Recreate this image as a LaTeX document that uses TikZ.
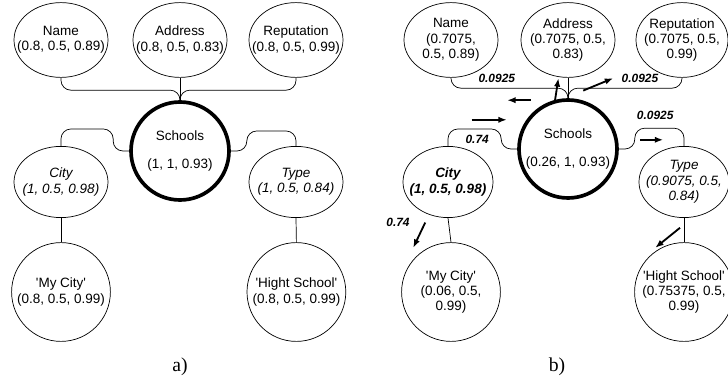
\documentclass[tikz,border=0pt]{standalone}
\usepackage{fontspec}
\setmainfont{Liberation Sans}
\newfontfamily\capfont{Liberation Serif}
\usetikzlibrary{shapes.geometric,arrows.meta,calc}

\tikzset{
  oval/.style={draw, ellipse, line width=0.5pt, inner sep=0pt, minimum width=2.35cm, minimum height=1.87cm},
  midoval/.style={oval, minimum height=1.78cm},
  ball/.style={draw, circle, line width=0.5pt, inner sep=0pt, minimum size=2.47cm},
  hub/.style={draw, circle, line width=2.6pt, inner sep=0pt, minimum size=2.45cm},
  txt/.style={align=center, inner sep=0pt, font=\fontsize{9.6}{11}\selectfont},
  link/.style={line width=0.5pt, rounded corners=7pt},
  flow/.style={-{Latex[length=6pt,width=4.5pt]}, line width=1.3pt},
  wt/.style={font=\fontsize{8.5}{10}\selectfont\bfseries\itshape},
  subcap/.style={font=\capfont\fontsize{14}{16}\selectfont}
}

\begin{document}
\begin{tikzpicture}
  \useasboundingbox (0,0) rectangle (18.2,9.525);

  % a) initial values
  \node[oval] (nameA) at (1.525,8.525) [label={[txt]center:{Name\\(0.8, 0.5, 0.89)}}] {};
  \node[oval] (addrA) at (4.5,8.525) [label={[txt]center:{Address\\(0.8, 0.5, 0.83)}}] {};
  \node[oval] (repA) at (7.4,8.525) [label={[txt]center:{Reputation\\(0.8, 0.5, 0.99)}}] {};
  \node[hub] (schoolsA) at (4.5,5.75) [label={[txt]center:{Schools\\[9pt](1, 1, 0.93)}}] {};
  \node[midoval] (cityA) at (1.525,4.975) [label={[txt]center:{\itshape City\\\itshape (1, 0.5, 0.98)}}] {};
  \node[midoval] (typeA) at (7.4,4.975) [label={[txt]center:{\itshape Type\\\itshape (1, 0.5, 0.84)}}] {};
  \node[ball] (mycityA) at (1.525,2.225) [label={[txt]center:{\textquotesingle My City\textquotesingle\\(0.8, 0.5, 0.99)}}] {};
  \node[ball] (highA) at (7.41,2.225) [label={[txt]center:{\textquotesingle Hight School\textquotesingle\\(0.8, 0.5, 0.99)}}] {};
  \node[subcap] (capA) at (4.5,0.35) {a)};

  \draw[link] (nameA.south) |- ($(schoolsA.north)+(0,0.25)$) -- (schoolsA.north);
  \draw[link] (repA.south) |- ($(schoolsA.north)+(0,0.25)$) -- (schoolsA.north);
  \draw[link] (addrA.south) -- (schoolsA.north);
  \draw[link] (cityA.north) |- ($(schoolsA.west)+(-0.4,0.55)$) |- (schoolsA.west);
  \draw[link] (typeA.north) |- ($(schoolsA.east)+(0.4,0.5)$) |- (schoolsA.east);
  \draw[link] (cityA.south) -- (mycityA.north);
  \draw[link] (typeA.south) -- (highA.north);

  % b) after propagation
  \node[oval] (nameB) at (11.275,8.525) [label={[txt]center:{Name\\(0.7075,\\0.5, 0.89)}}] {};
  \node[oval] (addrB) at (14.2,8.525) [label={[txt]center:{Address\\(0.7075, 0.5,\\0.83)}}] {};
  \node[oval, minimum width=2.3cm] (repB) at (17.05,8.525) [label={[txt]center:{Reputation\\(0.7075, 0.5,\\0.99)}}] {};
  \node[hub] (schoolsB) at (14.2,5.8) [label={[txt]center:{Schools\\[9pt](0.26, 1, 0.93)}}] {};
  \node[midoval, minimum width=2.25cm] (cityB) at (11.2,4.975) [label={[txt]center:{\bfseries\itshape City\\\bfseries\itshape (1, 0.5, 0.98)}}] {};
  \node[midoval, minimum width=2.25cm] (typeB) at (17.1,4.975) [label={[txt]center:{\itshape Type\\\itshape (0.9075, 0.5,\\\itshape 0.84)}}] {};
  \node[ball] (mycityB) at (11.275,2.225) [label={[txt]center:{\textquotesingle My City\textquotesingle\\(0.06, 0.5,\\0.99)}}] {};
  \node[ball] (highB) at (17.1,2.225) [label={[txt]center:{\textquotesingle Hight School\textquotesingle\\(0.75375, 0.5,\\0.99)}}] {};
  \node[subcap] (capB) at (13.925,0.35) {b)};

  \draw[link] (nameB.south) |- ($(schoolsB.north)+(0,0.25)$) -- (schoolsB.north);
  \draw[link] (repB.south) |- ($(schoolsB.north)+(0,0.25)$) -- (schoolsB.north);
  \draw[link] (addrB.south) -- (schoolsB.north);
  \draw[link] (cityB.north) |- ($(schoolsB.west)+(-0.4,0.5)$) |- (schoolsB.west);
  \draw[link] (typeB.north) |- ($(schoolsB.east)+(0.4,0.52)$) |- (schoolsB.east);
  \draw[link] (cityB.south) -- (mycityB.north);
  \draw[link] (typeB.south) -- (highB.north);

  % weights and flow arrows
  \node[wt] (wName) at (12.42,7.57) {0.0925};
  \node[wt] (wRep) at (16.0,7.57) {0.0925};
  \node[wt] (wType) at (16.38,6.65) {0.0925};
  \node[wt] (wCity) at (11.93,6.03) {0.74};
  \node[wt] (wMyCity) at (9.95,3.96) {0.74};

  \coordinate (toNameS) at (13.27,7.02);
  \coordinate (toNameE) at (12.68,7.02);
  \coordinate (toAddrS) at (13.87,6.98);
  \coordinate (toAddrE) at (13.96,7.57);
  \coordinate (toRepS) at (14.58,7.26);
  \coordinate (toRepE) at (15.33,7.57);
  \coordinate (fromCityS) at (11.79,6.53);
  \coordinate (fromCityE) at (12.67,6.53);
  \coordinate (toTypeS) at (16.0,6.03);
  \coordinate (toTypeE) at (16.58,6.03);
  \coordinate (toMyCityS) at (10.63,3.96);
  \coordinate (toMyCityE) at (10.33,3.33);
  \coordinate (toHighS) at (17.0,3.83);
  \coordinate (toHighE) at (16.38,3.33);

  \draw[flow] (toNameS) -- (toNameE);
  \draw[flow] (toAddrS) -- (toAddrE);
  \draw[flow] (toRepS) -- (toRepE);
  \draw[flow] (fromCityS) -- (fromCityE);
  \draw[flow] (toTypeS) -- (toTypeE);
  \draw[flow] (toMyCityS) -- (toMyCityE);
  \draw[flow] (toHighS) -- (toHighE);
\end{tikzpicture}
\end{document}
